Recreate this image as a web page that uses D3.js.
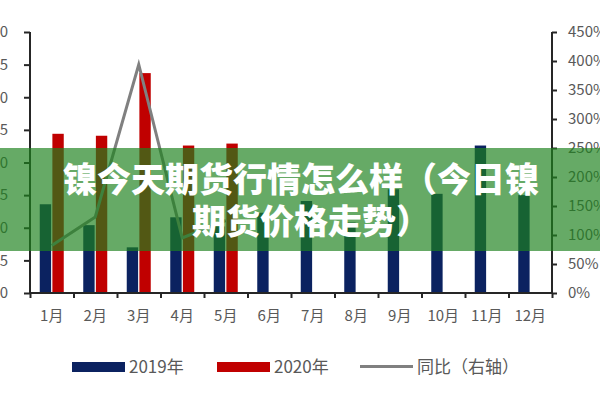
<!DOCTYPE html>
<html><head><meta charset="utf-8">
<script src="https://cdn.jsdelivr.net/npm/d3@7"></script>
<style>
html,body{margin:0;padding:0;background:#fff;}
svg{display:block;}
text{font-family:"Noto Sans CJK SC","Noto Sans",sans-serif;}
</style></head>
<body>
<svg id="c" width="600" height="400"></svg>
<script>
const months = ['1月','2月','3月','4月','5月','6月','7月','8月','9月','10月','11月','12月'];
const series = ['2019年','2020年'];
const v2019 = [13.6, 10.4, 7.0, 11.6, 10.2, 12.3, 14.1, 10.8, 15.9, 15.2, 22.6, 15.0];
const v2020 = [24.4, 24.1, 33.7, 22.6, 22.9];
const yoy = [82, 131, 394, 95, 125];
const leftTicks = [0,5,10,15,20,25,30,35,40];
const rightTicks = [0,50,100,150,200,250,300,350,400,450];
const lineLabel = '同比（右轴）';
const titleLines = ['镍今天期货行情怎么样（今日镍','期货价格走势）'];

const colors = {'2019年':'#0b2260','2020年':'#c00000', line:'#808080'};
const svg = d3.select('#c');
const L = 30, R = 552, T = 32, B = 293;

const x0 = d3.scaleBand().domain(months).range([L, R]).padding(0);
const bw = x0.bandwidth();
const x1 = d3.scaleBand().domain(series).range([bw/2 - 12, bw/2 + 12]).paddingInner(0.1);
const yL = d3.scaleLinear().domain([0, 40]).range([B, T]);
const yR = d3.scaleLinear().domain([0, 450]).range([B, T]);

// bars
const bars = [];
months.forEach((m,i) => {
  bars.push({m, s:'2019年', v:v2019[i]});
  if (i < v2020.length) bars.push({m, s:'2020年', v:v2020[i]});
});
svg.append('g').selectAll('rect').data(bars).join('rect')
  .attr('x', d => x0(d.m) + x1(d.s))
  .attr('width', x1.bandwidth())
  .attr('y', d => yL(d.v))
  .attr('height', d => B - yL(d.v))
  .attr('fill', d => colors[d.s]);

// line
const lineData = yoy.map((v,i) => ({m: months[i], v}));
svg.append('path').datum(lineData)
  .attr('fill','none').attr('stroke', colors.line).attr('stroke-width', 3)
  .attr('stroke-linejoin','miter')
  .attr('d', d3.line().x(d => x0(d.m) + bw/2).y(d => yR(d.v)));

// axes
const axisColor = '#262626', labelColor = '#595959';
const gL = svg.append('g').attr('transform', `translate(${L},0)`)
  .call(d3.axisLeft(yL).tickValues(leftTicks).tickSize(6).tickPadding(16).tickFormat(d3.format('d')));
const gR = svg.append('g').attr('transform', `translate(${R},0)`)
  .call(d3.axisRight(yR).tickValues(rightTicks).tickSize(5).tickPadding(11).tickFormat(d => d + '%'));
const xTickScale = d3.scaleLinear().domain([0, months.length]).range([L, R]);
const gX = svg.append('g').attr('transform', `translate(0,${B})`)
  .call(d3.axisBottom(xTickScale).tickValues(d3.range(0, months.length+1)).tickSize(5).tickFormat(''));
const gXL = svg.append('g').attr('transform', `translate(0,${B})`)
  .call(d3.axisBottom(x0).tickSize(0).tickPadding(17));
gXL.select('.domain').remove();

[gL, gR, gX].forEach(g => {
  g.select('.domain').attr('stroke', axisColor).attr('stroke-width', 2);
  g.selectAll('.tick line').attr('stroke', axisColor).attr('stroke-width', 2);
});
[gL, gR, gXL].forEach(g => {
  g.selectAll('.tick text').attr('fill', labelColor).style('font-size','15px')
    .style('font-family','"Noto Sans CJK SC","Noto Sans",sans-serif');
});
gL.select('.domain').attr('d', `M0,${T}V${B}`);
gR.select('.domain').attr('d', `M0,${T}V${B}`);
gX.select('.domain').attr('d', `M${L},0H${R}`);

// legend
const lg = svg.append('g');
const leg = [
  {type:'rect', c:colors['2019年'], x:72, label:series[0]},
  {type:'rect', c:colors['2020年'], x:217, label:series[1]},
  {type:'line', c:colors.line, x:360, label:lineLabel}
];
leg.forEach(d => {
  if (d.type === 'rect') lg.append('rect').attr('x', d.x).attr('y', 362).attr('width', 53).attr('height', 10).attr('fill', d.c);
  else lg.append('line').attr('x1', d.x).attr('x2', d.x + 53).attr('y1', 366.5).attr('y2', 366.5).attr('stroke', d.c).attr('stroke-width', 3);
  lg.append('text').attr('x', d.x + 57).attr('y', 373).attr('fill', labelColor)
    .style('font-size','17px').text(d.label);
});

// banner overlay
svg.append('rect').attr('x',0).attr('y',148).attr('width',600).attr('height',103)
  .attr('fill','rgb(30,130,30)').attr('fill-opacity',0.68);
const tg = svg.append('g');
tg.append('text').attr('x',301).attr('y',192).attr('text-anchor','middle')
  .attr('fill','#fff').style('font-size','34px').style('font-weight','900').text(titleLines[0]);
tg.append('text').attr('x',311).attr('y',234).attr('text-anchor','middle')
  .attr('fill','#fff').style('font-size','34px').style('font-weight','900').text(titleLines[1]);
</script>
</body></html>
